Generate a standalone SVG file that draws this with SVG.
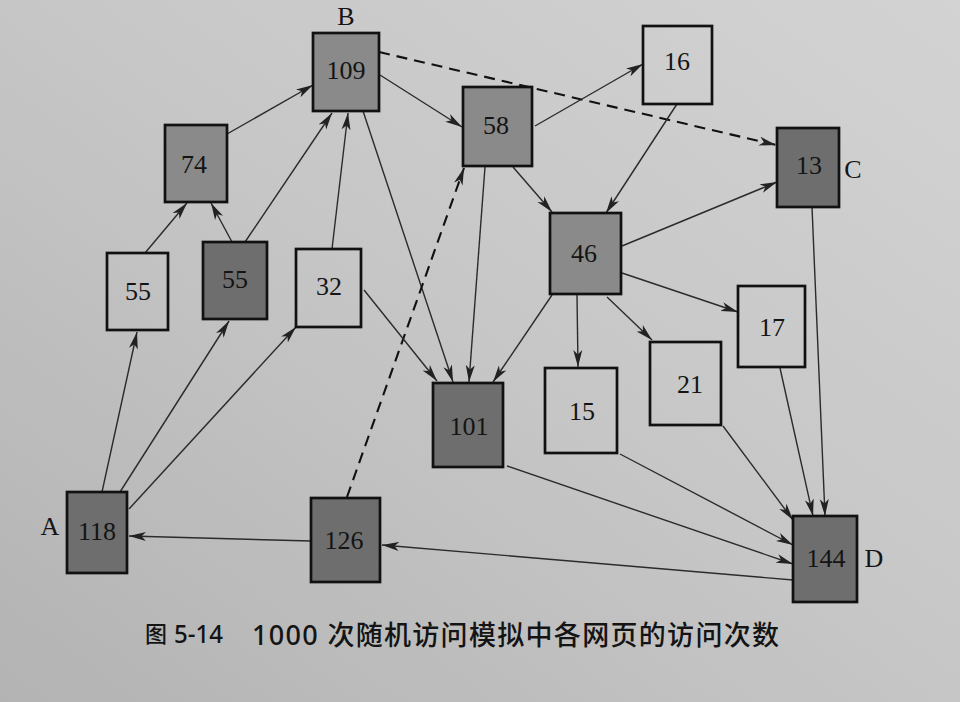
<svg xmlns="http://www.w3.org/2000/svg" width="960" height="702" viewBox="0 0 960 702">
<defs>
<linearGradient id="bg" x1="1" y1="0" x2="0" y2="1">
<stop offset="0" stop-color="#d3d3d3"/>
<stop offset="0.5" stop-color="#c6c6c6"/>
<stop offset="1" stop-color="#b3b3b3"/>
</linearGradient>
<marker id="ah" markerUnits="userSpaceOnUse" markerWidth="18" markerHeight="10" refX="17" refY="4.5" orient="auto" viewBox="0 0 18 9">
<path d="M0,0 L17,4.5 L0,9 L4.5,4.5 z" fill="#222"/>
</marker>
</defs>
<style>
.box{stroke:#111;stroke-width:2.7}
.w{fill:none}
.m{fill:#8a8a8a}
.d{fill:#6e6e6e}
.num{font-family:"Liberation Serif","DejaVu Serif",serif;font-size:26px;fill:#141414;text-anchor:middle}
.lab{font-family:"Liberation Serif","DejaVu Serif",serif;font-size:26px;fill:#141414;text-anchor:middle}
.e{stroke:#2b2b2b;stroke-width:1.4;fill:none;marker-end:url(#ah)}
.ds{stroke:#111;stroke-width:2.1;fill:none;stroke-dasharray:11 7;marker-end:url(#ah)}
.cap{font-family:"Noto Sans","Noto Sans CJK SC",sans-serif;fill:#141414;font-weight:500}
</style>
<rect x="0" y="0" width="960" height="702" fill="url(#bg)"/>

<g id="connectors">
<line class="e" x1="227" y1="134" x2="313" y2="85"/>
<line class="e" x1="145" y1="253" x2="187" y2="203"/>
<line class="e" x1="232" y1="242" x2="211" y2="203"/>
<line class="e" x1="245" y1="242" x2="332" y2="113"/>
<line class="e" x1="332" y1="249" x2="348" y2="113"/>
<line class="e" x1="363" y1="111" x2="453" y2="382"/>
<line class="e" x1="380" y1="75" x2="462" y2="127"/>
<line class="ds" x1="379" y1="52" x2="776" y2="145"/>
<line class="e" x1="535" y1="126" x2="643" y2="64"/>
<line class="e" x1="677" y1="104" x2="606" y2="213"/>
<line class="e" x1="513" y1="167" x2="552" y2="212"/>
<line class="e" x1="485" y1="167" x2="469" y2="382"/>
<line class="ds" x1="347" y1="497" x2="464" y2="168"/>
<line class="e" x1="364" y1="290" x2="437" y2="381"/>
<line class="e" x1="552" y1="295" x2="493" y2="382"/>
<line class="e" x1="577" y1="295" x2="578" y2="367"/>
<line class="e" x1="607" y1="297" x2="652" y2="340"/>
<line class="e" x1="622" y1="273" x2="738" y2="312"/>
<line class="e" x1="622" y1="246" x2="777" y2="182"/>
<line class="e" x1="812" y1="207" x2="825" y2="516"/>
<line class="e" x1="780" y1="368" x2="813" y2="516"/>
<line class="e" x1="723" y1="426" x2="793" y2="520"/>
<line class="e" x1="620" y1="454" x2="793" y2="545"/>
<line class="e" x1="507" y1="466" x2="793" y2="564"/>
<line class="e" x1="793" y1="580" x2="382" y2="545"/>
<line class="e" x1="311" y1="541" x2="129" y2="536"/>
<line class="e" x1="102" y1="492" x2="137" y2="332"/>
<line class="e" x1="120" y1="492" x2="229" y2="321"/>
<line class="e" x1="129" y1="509" x2="296" y2="327"/>
</g>

<g id="n109"><rect class="box m" x="313" y="33" width="66" height="78"/><text class="num" x="346" y="79">109</text><text class="lab" x="346" y="25">B</text></g>
<g id="n74"><rect class="box m" x="165" y="125" width="62" height="77"/><text class="num" x="194" y="173">74</text></g>
<g id="n55a"><rect class="box w" x="107" y="253" width="61" height="77"/><text class="num" x="138" y="300">55</text></g>
<g id="n55b"><rect class="box d" x="203" y="242" width="64" height="77"/><text class="num" x="235" y="288">55</text></g>
<g id="n32"><rect class="box w" x="296" y="249" width="65" height="78"/><text class="num" x="329" y="295">32</text></g>
<g id="n58"><rect class="box m" x="463" y="87" width="69" height="79"/><text class="num" x="496" y="134">58</text></g>
<g id="n16"><rect class="box w" x="643" y="26" width="69" height="78"/><text class="num" x="677" y="70">16</text></g>
<g id="n13"><rect class="box d" x="777" y="128" width="62" height="79"/><text class="num" x="809" y="174">13</text><text class="lab" x="853" y="178">C</text></g>
<g id="n46"><rect class="box m" x="550" y="213" width="71" height="81"/><text class="num" x="584" y="262">46</text></g>
<g id="n101"><rect class="box d" x="433" y="383" width="70" height="84"/><text class="num" x="469" y="435">101</text></g>
<g id="n15"><rect class="box w" x="545" y="368" width="72" height="85"/><text class="num" x="582" y="420">15</text></g>
<g id="n21"><rect class="box w" x="650" y="342" width="71" height="83"/><text class="num" x="690" y="393">21</text></g>
<g id="n17"><rect class="box w" x="738" y="286" width="67" height="81"/><text class="num" x="772" y="336">17</text></g>
<g id="n118"><rect class="box d" x="67" y="492" width="60" height="81"/><text class="num" x="97" y="540">118</text><text class="lab" x="50" y="535">A</text></g>
<g id="n126"><rect class="box d" x="311" y="498" width="69" height="84"/><text class="num" x="344" y="549">126</text></g>
<g id="n144"><rect class="box d" x="793" y="516" width="64" height="86"/><text class="num" x="826" y="567">144</text><text class="lab" x="874" y="567">D</text></g>

<g id="caption">
<text class="cap" x="145" y="642" font-size="22" fill="#333" font-weight="400">图</text>
<text class="cap" x="174" y="643" font-size="25" textLength="49" lengthAdjust="spacingAndGlyphs">5-14</text>
<text class="cap" x="252" y="645" font-size="27" textLength="527" lengthAdjust="spacing">1000 次随机访问模拟中各网页的访问次数</text>
</g>
</svg>
